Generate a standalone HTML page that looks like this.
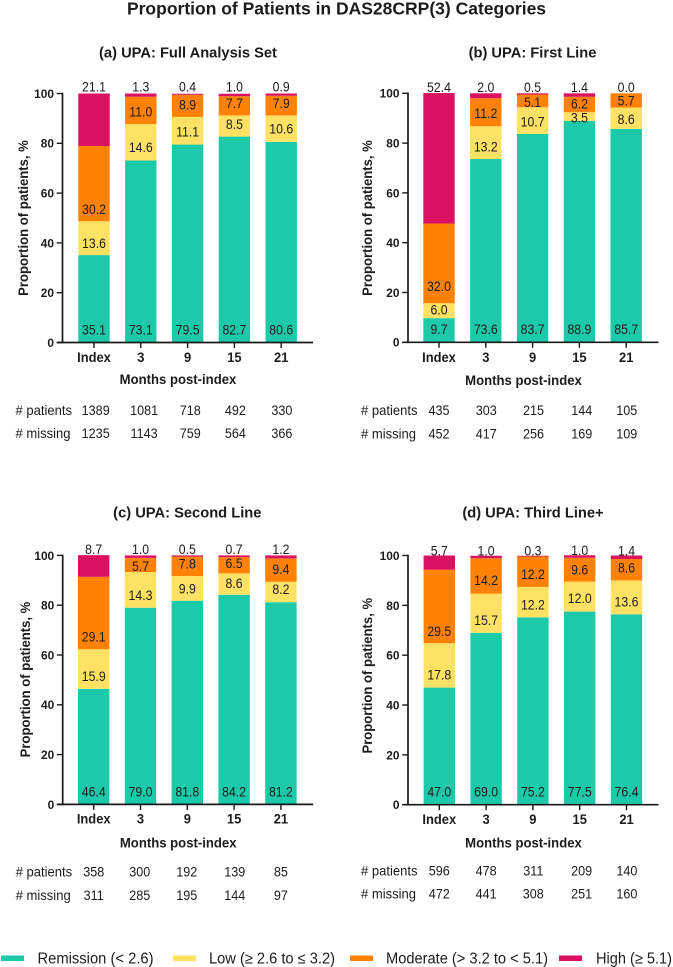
<!DOCTYPE html>
<html lang="en">
<head>
<meta charset="utf-8">
<title>Proportion of Patients in DAS28CRP(3) Categories</title>
<style>
html,body{margin:0;padding:0;background:#fff;width:673px;height:967px;overflow:hidden}
svg{display:block;font-family:"Liberation Sans",Arial,sans-serif}
text{fill:#1c1c1c}
</style>
</head>
<body>
<svg id="chart" xmlns="http://www.w3.org/2000/svg" width="673" height="967" viewBox="0 0 673 967">
  <text x="336.5" y="14.3" text-anchor="middle" font-size="17.5" font-weight="700">Proportion of Patients in DAS28CRP(3) Categories</text>
  <g id="panels"></g>
  <g id="legend"></g>
</svg>
<script>
// ---- Data ----
const categories = ["Index", "3", "9", "15", "21"];
const yTicks = [0, 20, 40, 60, 80, 100];
const seriesNames = ["Remission (< 2.6)", "Low (≥ 2.6 to ≤ 3.2)", "Moderate (> 3.2 to < 5.1)", "High (≥ 5.1)"];

const remissionA = [35.1, 73.1, 79.5, 82.7, 80.6];
const lowA       = [13.6, 14.6, 11.1, 8.5, 10.6];
const moderateA  = [30.2, 11.0, 8.9, 7.7, 7.9];
const highA      = [21.1, 1.3, 0.4, 1.0, 0.9];
const patientsA  = [1389, 1081, 718, 492, 330];
const missingA   = [1235, 1143, 759, 564, 366];

const remissionB = [9.7, 73.6, 83.7, 88.9, 85.7];
const lowB       = [6.0, 13.2, 10.7, 3.5, 8.6];
const moderateB  = [32.0, 11.2, 5.1, 6.2, 5.7];
const highB      = [52.4, 2.0, 0.5, 1.4, 0.0];
const patientsB  = [435, 303, 215, 144, 105];
const missingB   = [452, 417, 256, 169, 109];

const remissionC = [46.4, 79.0, 81.8, 84.2, 81.2];
const lowC       = [15.9, 14.3, 9.9, 8.6, 8.2];
const moderateC  = [29.1, 5.7, 7.8, 6.5, 9.4];
const highC      = [8.7, 1.0, 0.5, 0.7, 1.2];
const patientsC  = [358, 300, 192, 139, 85];
const missingC   = [311, 285, 195, 144, 97];

const remissionD = [47.0, 69.0, 75.2, 77.5, 76.4];
const lowD       = [17.8, 15.7, 12.2, 12.0, 13.6];
const moderateD  = [29.5, 14.2, 12.2, 9.6, 8.6];
const highD      = [5.7, 1.0, 0.3, 1.0, 1.4];
const patientsD  = [596, 478, 311, 209, 140];
const missingD   = [472, 441, 308, 251, 160];

// ---- Presentation ----
const COLORS = ["#1CCAA9", "#FFE264", "#FF8206", "#DB1060"];
const SVGNS = "http://www.w3.org/2000/svg";

const PANELS = [
  { key: "a", title: "(a) UPA: Full Analysis Set", titleX: 188, titleY: 57,
    axisX: 62.5, top: 93.5, base: 342.5, firstBar: 94, step: 46.8,
    yTitleX: 23, yTitleY: 218, tickDy: 14.2, xTitleDy: 36.5, patDy: 67.5, misDy: 90.5, topDy: 7,
    tableShift: [1.7, 3.3, 2.7, 1, 0.7],
    nudgeLow: [4.7, 5, 1, -2, 0], nudgeMod: [0, 1, -1.5, -3, -2.5],
    data: [remissionA, lowA, moderateA, highA], patients: patientsA, missing: missingA },
  { key: "b", title: "(b) UPA: First Line", titleX: 532.5, titleY: 57,
    axisX: 408, top: 93.3, base: 342.3, firstBar: 439, step: 46.8,
    yTitleX: 367, yTitleY: 218, tickDy: 14.4, xTitleDy: 37.7, patDy: 67.7, misDy: 91, topDy: 6,
    tableShift: [0, 0.4, 0.9, 2.3, 0.5],
    nudgeLow: [-1, 4, 1, 1, 1], nudgeMod: [-5, 1, 1.4, -1, 0],
    data: [remissionB, lowB, moderateB, highB], patients: patientsB, missing: missingB },
  { key: "c", title: "(c) UPA: Second Line", titleX: 187.3, titleY: 517,
    axisX: 62.7, top: 555.4, base: 804.4, firstBar: 93.7, step: 46.8,
    yTitleX: 25, yTitleY: 679.5, tickDy: 14, xTitleDy: 38, patDy: 67.3, misDy: 90.6, topDy: 6.3,
    tableShift: [0, -0.8, -0.6, 0.6, 0],
    nudgeLow: [7, 5, 0, -1, -3], nudgeMod: [-0.5, 1, -3, -2, -1],
    data: [remissionC, lowC, moderateC, highC], patients: patientsC, missing: missingC },
  { key: "d", title: "(d) UPA: Third Line+", titleX: 533, titleY: 517,
    axisX: 408, top: 555.5, base: 804.7, firstBar: 439.3, step: 46.8,
    yTitleX: 367, yTitleY: 675.7, tickDy: 14, xTitleDy: 37.6, patDy: 66, misDy: 89, topDy: 5,
    tableShift: [0, 0, 0.4, 1.9, 0.4],
    nudgeLow: [9, 7, 2.5, 1.5, 4], nudgeMod: [0, 4, 2.5, 0, -2],
    data: [remissionD, lowD, moderateD, highD], patients: patientsD, missing: missingD }
];

function svgEl(tag, attrs, parent) {
  const el = document.createElementNS(SVGNS, tag);
  for (const k in attrs) el.setAttribute(k, attrs[k]);
  parent.appendChild(el);
  return el;
}
function squeezeText(t, factor) {
  if (!factor) return;
  t.setAttribute("textLength", (t.getComputedTextLength() * factor).toFixed(2));
  t.setAttribute("lengthAdjust", "spacingAndGlyphs");
}
function label(parent, x, y, str, size, weight, anchor, factor) {
  const t = svgEl("text", { x: x, y: y + size * 0.358, "font-size": size, "font-weight": weight || 400, "text-anchor": anchor || "middle" }, parent);
  t.textContent = str;
  squeezeText(t, factor);
  return t;
}

const panelsRoot = document.getElementById("panels");
const seriesKeys = ["remission", "low", "moderate", "high"];

PANELS.forEach(function (p) {
  const yScale = function (v) { return p.base - (v / 100) * (p.base - p.top); };
  const xScale = function (i) { return p.firstBar + i * p.step; };
  const barW = 31.4;

  const g = svgEl("g", {}, panelsRoot);
  
  

  const title = label(g, p.titleX, p.titleY - 4.6, p.title, 14.7, 700);
  
  

  // bars
  categories.forEach(function (cat, i) {
    let cum = 0;
    p.data.forEach(function (arr, s) {
      const v = arr[i];
      const y1 = yScale(cum), y2 = yScale(cum + v);
      const rect = svgEl("rect", { x: xScale(i) - barW / 2, y: y2, width: barW, height: Math.max(0, y1 - y2), fill: COLORS[s] }, g);
      
      
      cum += v;
    });
  });

  // axes
  const yAxis = svgEl("line", { x1: p.axisX, x2: p.axisX, y1: p.top - 0.8, y2: p.base + 0.8, stroke: "#1a1a1a", "stroke-width": 1.7 }, g);
  
  
  const xAxis = svgEl("line", { x1: p.axisX - 5.8, x2: p.axisX + 250.5, y1: p.base, y2: p.base, stroke: "#1a1a1a", "stroke-width": 1.7 }, g);
  
  

  yTicks.forEach(function (t) {
    const y = yScale(t);
    const tick = svgEl("line", { x1: p.axisX - 5.8, x2: p.axisX, y1: y, y2: y, stroke: "#1a1a1a", "stroke-width": 1.4 }, g);
    
    
    const tl = label(g, p.axisX - 8.5, y, String(t), 12.4, 700, "end", 0.96);
    
    
  });

  categories.forEach(function (cat, i) {
    const x = xScale(i);
    const tick = svgEl("line", { x1: x, x2: x, y1: p.base, y2: p.base + 5.5, stroke: "#1a1a1a", "stroke-width": 1.4 }, g);
    
    
    const tl = label(g, x, p.base + p.tickDy, cat, 14.2, 700, "middle", 0.91);
    
    
  });

  const yTitle = svgEl("text", { transform: "translate(" + (p.yTitleX + 5) + "," + p.yTitleY + ") rotate(-90)", "text-anchor": "middle", "font-size": 14, "font-weight": 700 }, g);
  yTitle.textContent = "Proportion of patients, %";
  squeezeText(yTitle, 0.935);
  
  

  const xTitle = label(g, p.axisX + 115.5, p.base + p.xTitleDy, "Months post-index", 14.2, 700, "middle", 0.925);
  
  

  // value labels
  categories.forEach(function (cat, i) {
    const x = xScale(i);
    const rem = p.data[0][i], low = p.data[1][i], mod = p.data[2][i], high = p.data[3][i];
    const total = rem + low + mod + high;

    const l0 = label(g, x, p.base - 13, rem.toFixed(1), 13.8, 400, "middle", 0.89);
    
    

    const l1 = label(g, x, yScale(rem + low / 2) + p.nudgeLow[i], low.toFixed(1), 13.8, 400, "middle", 0.89);
    
    

    // tall moderate segments carry their label near the bottom of the segment
    const modY = mod > 25 ? yScale(rem + low) - 12.2 : yScale(rem + low + mod / 2);
    const l2 = label(g, x, modY + p.nudgeMod[i], mod.toFixed(1), 13.8, 400, "middle", 0.89);
    
    

    const l3 = label(g, x, yScale(total) - p.topDy, high.toFixed(1), 13.8, 400, "middle", 0.89);
    
    
  });

  // table rows
  const tableX = p.axisX - 47;
  const hp = label(g, tableX, p.base + p.patDy, "# patients", 14, 400, "start", 0.93);
  
  
  const hm = label(g, tableX, p.base + p.misDy, "# missing", 14, 400, "start", 0.93);
  
  

  categories.forEach(function (cat, i) {
    const x = xScale(i) + p.tableShift[i];
    const a = label(g, x, p.base + p.patDy, String(p.patients[i]), 14, 400, "middle", 0.9);
    
    
    const b = label(g, x, p.base + p.misDy, String(p.missing[i]), 14, 400, "middle", 0.9);
    
    
  });
});

// legend
const legendRoot = document.getElementById("legend");
const legendSwatchX = [1, 173, 350, 559];
const legendTextX = [37.5, 209, 386, 596];
const legendTextW = [116, 126, 162, 76];
seriesNames.forEach(function (name, s) {
  const sw = svgEl("rect", { x: legendSwatchX[s], y: 955.5, width: 23, height: 5.5, fill: COLORS[s] }, legendRoot);
  
  
  const t = svgEl("text", { x: legendTextX[s], y: 963.3, "font-size": 15.4, textLength: legendTextW[s], lengthAdjust: "spacingAndGlyphs" }, legendRoot);
  t.textContent = name;
  
  
});
</script>
</body>
</html>
